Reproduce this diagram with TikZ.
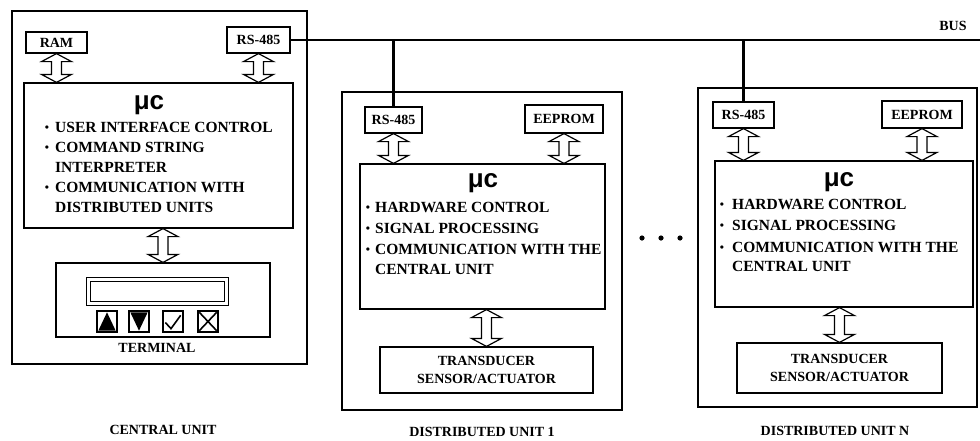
\documentclass[tikz,border=0pt]{standalone}
\usepackage{fontspec}
\setmainfont{Liberation Serif}
\newfontfamily\musans{Liberation Sans}
\usetikzlibrary{calc}

\newcommand\bodyfont{\fontsize{15.5}{18}\selectfont\bfseries}
\newcommand\tagfont{\fontsize{14}{17}\selectfont\bfseries}
\newcommand\mufont{\musans\fontsize{26}{26}\selectfont\bfseries}
\newcommand\bul{\raisebox{0.5pt}{\fontsize{12}{12}\selectfont\bfseries •}}

% hollow double-headed block arrow from the point #1 (top) down to the point #2 (bottom)
\newcommand\dblarrow[2]{%
  \draw[harrow] let \p1=(#1), \p2=(#2) in
    (\x1,\y1) -- (\x1+15pt,\y1-8pt) -- (\x1+5pt,\y1-8pt) -- (\x1+5pt,\y2+8pt)
    -- (\x1+15pt,\y2+8pt) -- (\x1,\y2) -- (\x1-15pt,\y2+8pt) -- (\x1-5pt,\y2+8pt)
    -- (\x1-5pt,\y1-8pt) -- (\x1-15pt,\y1-8pt) -- cycle;}

\tikzset{
  unit/.style={draw, line width=1.2pt, inner sep=0pt},
  box/.style={draw, line width=1.2pt, inner sep=0pt, font=\tagfont, align=center},
  harrow/.style={draw, line width=1.2pt, fill=white, line join=miter},
  wire/.style={line width=2.6pt},
  txt/.style={font=\bodyfont, inner sep=0pt, anchor=base west},
  dot/.style={inner sep=0pt, anchor=base},
  mutitle/.style={font=\mufont, inner sep=0pt, anchor=base},
  caption/.style={font=\tagfont, inner sep=0pt, anchor=base},
  key/.style={draw, line width=1.3pt, inner sep=0pt, minimum width=20pt, minimum height=21pt},
}

\begin{document}
\begin{tikzpicture}[x=1pt, y=-1pt]
\useasboundingbox (0,0) rectangle (980,440);

% ---------------- central unit ----------------
\node[unit, minimum width=295pt, minimum height=353pt] (cu) at (159.5,187.5) {};
\node[box, minimum width=61pt, minimum height=21pt] (ram) at (56.5,42.5) {RAM};
\node[box, minimum width=63pt, minimum height=26pt] (rs0) at (258.5,40) {RS-485};
\node[unit, minimum width=269pt, minimum height=145pt] (mc0) at (158.5,155.5) {};
\node[mutitle] (mu0) at (149,109) {μc};
\node[dot] (b01) at (47,132) {\bul};
\node[txt] (t01) at (55,132) {USER INTERFACE CONTROL};
\node[dot] (b02) at (47,152) {\bul};
\node[txt] (t02) at (55,152) {COMMAND STRING};
\node[txt] (t03) at (55,172) {INTERPRETER};
\node[dot] (b04) at (47,192) {\bul};
\node[txt] (t04) at (55,192) {COMMUNICATION WITH};
\node[txt] (t05) at (55,212) {DISTRIBUTED UNITS};

% terminal with display and four keys
\node[unit, minimum width=214pt, minimum height=74pt] (term) at (163,300) {};
\node[draw, line width=1.1pt, double, double distance=2.5pt, inner sep=0pt,
      minimum width=138pt, minimum height=24pt] (disp) at (157.5,291.5) {};
\node[key] (k1) at (107,321.5) {};
\node[key] (k2) at (139,321.5) {};
\node[key] (k3) at (173,321.5) {};
\node[key] (k4) at (208,321.5) {};
\fill ($(k1.south west)+(2,-2)$) -- ($(k1.south east)+(-2,-2)$) -- ($(k1.north)+(0,2)$) -- cycle;
\fill ($(k2.north west)+(2,2)$) -- ($(k2.north east)+(-2,2)$) -- ($(k2.south)+(0,-2)$) -- cycle;
\draw[line width=1.6pt] ($(k3.west)+(3,1)$) -- ($(k3.south)+(-2,-4)$) -- ($(k3.north east)+(-3,5)$);
\draw[line width=1.6pt] ($(k4.north west)+(2,2)$) -- ($(k4.south east)+(-2,-2)$)
                        ($(k4.north east)+(-2,2)$) -- ($(k4.south west)+(2,-2)$);
\node[caption] (termlbl) at (157,352) {TERMINAL};
\node[caption] (culbl) at (163,434) {CENTRAL UNIT};

\dblarrow{ram.south}{ram.south |- mc0.north}
\dblarrow{rs0.south}{rs0.south |- mc0.north}
\dblarrow{mc0.south -| term.north}{term.north}

% ---------------- distributed unit 1 ----------------
\node[unit, minimum width=280pt, minimum height=318pt] (du1) at (482,251) {};
\node[box, minimum width=57pt, minimum height=26pt] (rs1) at (393.5,120) {RS-485};
\node[box, minimum width=78pt, minimum height=28pt] (ee1) at (564,119) {EEPROM};
\node[unit, minimum width=245pt, minimum height=145pt] (mc1) at (482.5,236.5) {};
\node[mutitle] (mu1) at (483,187) {μc};
\node[dot] (b11) at (368,212) {\bul};
\node[txt] (t11) at (375,212) {HARDWARE CONTROL};
\node[dot] (b12) at (368,233) {\bul};
\node[txt] (t12) at (375,233) {SIGNAL PROCESSING};
\node[dot] (b13) at (368,254) {\bul};
\node[txt] (t13) at (375,254) {COMMUNICATION WITH THE};
\node[txt] (t14) at (375,274) {CENTRAL UNIT};
\node[box, minimum width=213pt, minimum height=46pt] (td1) at (486.5,370)
  {TRANSDUCER\\[1pt]SENSOR/ACTUATOR};
\node[caption] (du1lbl) at (482,436) {DISTRIBUTED UNIT 1};

\dblarrow{rs1.south}{rs1.south |- mc1.north}
\dblarrow{ee1.south}{ee1.south |- mc1.north}
\dblarrow{mc1.south -| td1.north}{td1.north}

% ---------------- ellipsis between the units ----------------
\fill (642,238) circle (2.6pt) (661,238) circle (2.6pt) (680,238) circle (2.6pt);

% ---------------- distributed unit N ----------------
\node[unit, minimum width=279pt, minimum height=319pt] (dun) at (837.5,247.5) {};
\node[box, minimum width=61pt, minimum height=26pt] (rsn) at (743.5,115) {RS-485};
\node[box, minimum width=80pt, minimum height=27pt] (een) at (922,114.5) {EEPROM};
\node[unit, minimum width=258pt, minimum height=146pt] (mcn) at (844,234) {};
\node[mutitle] (mun) at (839,186) {μc};
\node[dot] (bn1) at (722,209) {\bul};
\node[txt] (tn1) at (732,209) {HARDWARE CONTROL};
\node[dot] (bn2) at (722,230) {\bul};
\node[txt] (tn2) at (732,230) {SIGNAL PROCESSING};
\node[dot] (bn3) at (722,252) {\bul};
\node[txt] (tn3) at (732,252) {COMMUNICATION WITH THE};
\node[txt] (tn4) at (732,271) {CENTRAL UNIT};
\node[box, minimum width=205pt, minimum height=50pt] (tdn) at (839.5,368)
  {TRANSDUCER\\[1pt]SENSOR/ACTUATOR};
\node[caption] (dunlbl) at (835,435) {DISTRIBUTED UNIT N};

\dblarrow{rsn.south}{rsn.south |- mcn.north}
\dblarrow{een.south}{een.south |- mcn.north}
\dblarrow{mcn.south -| tdn.north}{tdn.north}

% ---------------- RS-485 bus ----------------
\coordinate (busend) at (980,40);
\node[caption] (buslbl) at (953,30) {BUS};
\draw[wire] (rs0.east) -- (busend);
\draw[wire] (rs1.north) -- (rs1.north |- rs0.east);
\draw[wire] (rsn.north) -- (rsn.north |- rs0.east);

\end{tikzpicture}
\end{document}
